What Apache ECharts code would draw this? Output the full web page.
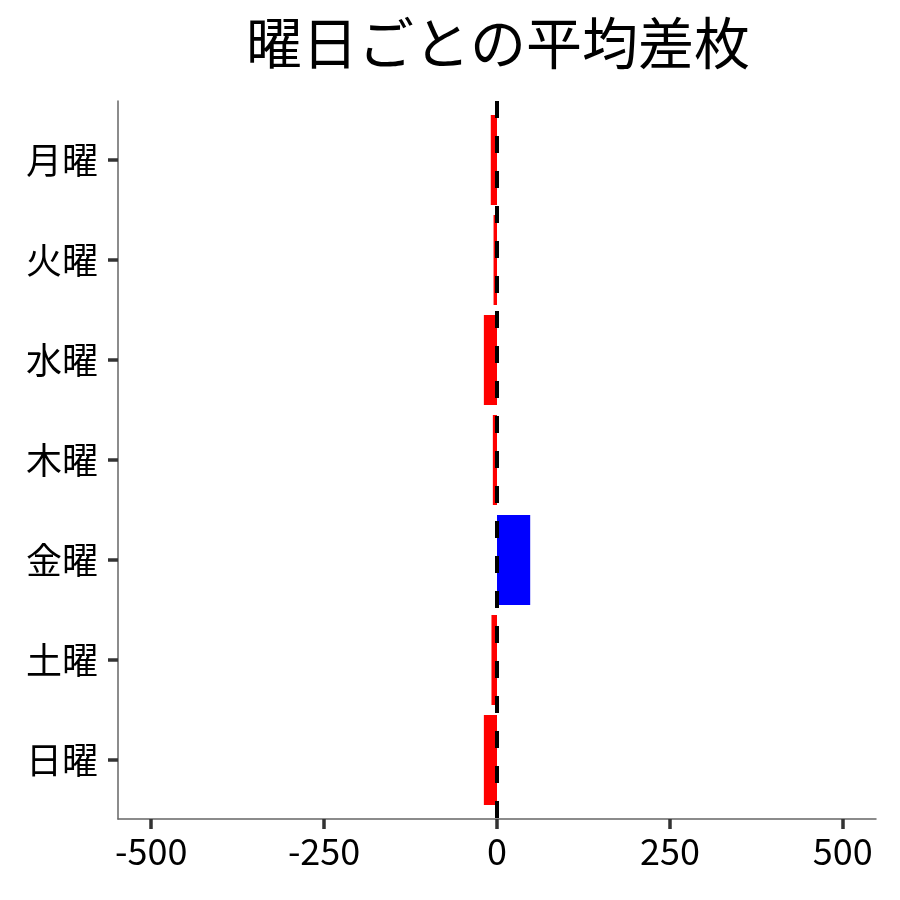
<!DOCTYPE html>
<html>
<head>
<meta charset="utf-8">
<script src="https://cdn.jsdelivr.net/npm/echarts@6/dist/echarts.min.js"></script>
<style>html,body{margin:0;padding:0;background:#fff;}#c{width:900px;height:900px;}</style>
</head>
<body>
<div id="c"></div>
<script>
const titleText = '曜日ごとの平均差枚';
const categories = ['月曜', '火曜', '水曜', '木曜', '金曜', '土曜', '日曜'];
const values = [-9, -5, -19, -6, 48, -8, -19];
const xTicks = [-500, -250, 0, 250, 500];
const yTicks = [0, 1, 2, 3, 4, 5, 6];

const FONT = '"Noto Sans CJK JP", "Noto Sans", sans-serif';
const chart = echarts.init(document.getElementById('c'));
chart.setOption({
  animation: false,
  backgroundColor: '#fff',
  title: {
    text: titleText,
    left: 241, top: 10,
    textStyle: { fontFamily: FONT, fontSize: 56, fontWeight: 'normal', color: '#000' }
  },
  grid: { left: 118, right: 24, top: 101, bottom: 81, containLabel: false },
  xAxis: {
    type: 'value', min: -548, max: 548,
    splitLine: { show: false },
    axisLine: { show: true, onZero: false, lineStyle: { color: '#666', width: 1.5 } },
    axisTick: { show: true, customValues: xTicks, length: 10, lineStyle: { color: '#333', width: 3.5 } },
    axisLabel: { customValues: xTicks, fontFamily: FONT, fontSize: 36, color: '#000', margin: 14 }
  },
  yAxis: {
    type: 'value', inverse: true, min: -0.59, max: 6.59,
    splitLine: { show: false },
    axisLine: { show: true, onZero: false, lineStyle: { color: '#666', width: 1.5 } },
    axisTick: { show: true, customValues: yTicks, length: 10, lineStyle: { color: '#333', width: 3.5 } },
    axisLabel: { customValues: yTicks, fontFamily: FONT, fontSize: 36, color: '#000', margin: 20,
      formatter: function (v) { return categories[Math.round(v)]; } }
  },
  series: [{
    type: 'custom',
    data: values.map(function (v, i) { return [v, i]; }),
    encode: { x: 0, y: 1 },
    renderItem: function (params, api) {
      const v = api.value(0), idx = api.value(1);
      const p0 = api.coord([0, idx]);
      const p1 = api.coord([v, idx]);
      const h = api.size([0, 0.9])[1];
      return {
        type: 'rect',
        shape: { x: Math.min(p0[0], p1[0]), y: p0[1] - h / 2, width: Math.abs(p1[0] - p0[0]), height: h },
        style: { fill: v < 0 ? '#ff0000' : '#0000ff' }
      };
    },
    markLine: {
      silent: true, symbol: ['none', 'none'], label: { show: false },
      lineStyle: { color: '#000', width: 4, type: [17, 18] },
      data: [{ xAxis: 0 }]
    }
  }]
});
</script>
</body>
</html>
